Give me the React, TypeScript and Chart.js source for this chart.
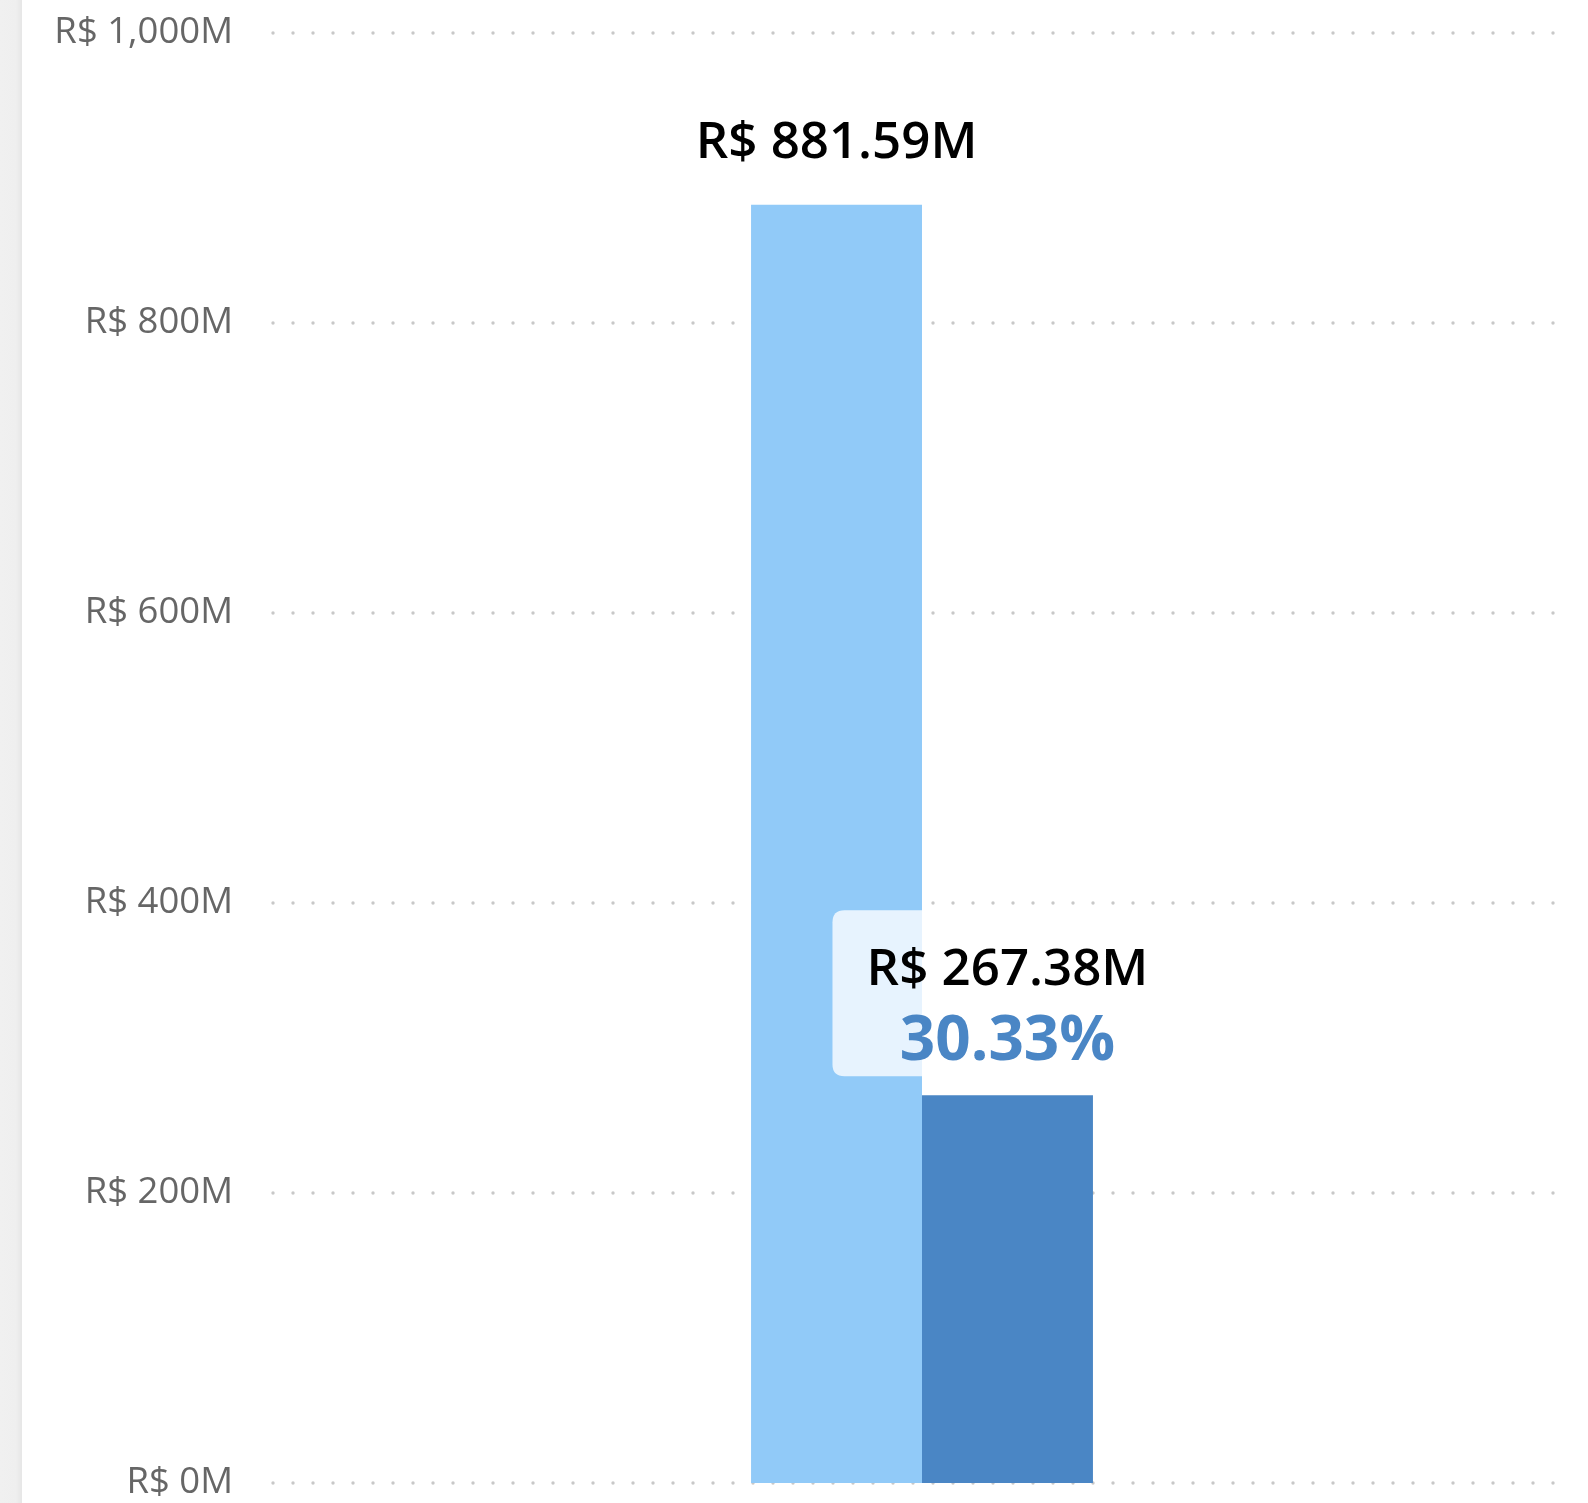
import React, { useEffect, useRef } from "react";
import { Chart, registerables } from "chart.js";

Chart.register(...registerables);

const categories = ["Receita"];
const seriesNames = ["Total", "Parcela"];
const totalValues = [881.59];
const partValues = [267.38];
const yTicks = [0, 200, 400, 600, 800, 1000];

const FONT = "'Open Sans', 'Noto Sans', sans-serif";

const fmtMoney = (v: number) => `R$ ${v.toFixed(2)}M`;
const fmtTick = (v: number) => `R$ ${Number(v).toLocaleString("en-US")}M`;

function roundRect(ctx: CanvasRenderingContext2D, x: number, y: number, w: number, h: number, r: number) {
  ctx.beginPath();
  ctx.moveTo(x + r, y);
  ctx.lineTo(x + w - r, y);
  ctx.quadraticCurveTo(x + w, y, x + w, y + r);
  ctx.lineTo(x + w, y + h - r);
  ctx.quadraticCurveTo(x + w, y + h, x + w - r, y + h);
  ctx.lineTo(x + r, y + h);
  ctx.quadraticCurveTo(x, y + h, x, y + h - r);
  ctx.lineTo(x, y + r);
  ctx.quadraticCurveTo(x, y, x + r, y);
  ctx.closePath();
}

const dottedGrid = {
  id: "dottedGrid",
  beforeDatasetsDraw(chart: any) {
    const { ctx, chartArea, scales } = chart;
    const y = scales.y;
    ctx.save();
    ctx.fillStyle = "#c8c8c8";
    y.ticks.forEach((t: any) => {
      const py = y.getPixelForValue(t.value);
      for (let x = chartArea.left + 1; x <= chartArea.right - 17; x += 20) {
        ctx.beginPath();
        ctx.arc(x, py, 1.7, 0, Math.PI * 2);
        ctx.fill();
      }
    });
    ctx.restore();
  },
};

const barLabels = {
  id: "barLabels",
  afterDatasetsDraw(chart: any) {
    const { ctx } = chart;
    ctx.save();
    ctx.textAlign = "center";
    ctx.textBaseline = "alphabetic";
    // Total label
    const m0 = chart.getDatasetMeta(0).data[0];
    ctx.fillStyle = "#000000";
    ctx.font = `600 51px ${FONT}`;
    ctx.fillText(fmtMoney(totalValues[0]), m0.x, m0.y - 47);
    // Part label with box
    const m1 = chart.getDatasetMeta(1).data[0];
    const top = m1.y;
    ctx.fillStyle = "rgba(255,255,255,0.78)";
    roundRect(ctx, m1.x - 175, top - 185, 350, 166, 12);
    ctx.fill();
    ctx.fillStyle = "#000000";
    ctx.font = `600 51px ${FONT}`;
    ctx.fillText(fmtMoney(partValues[0]), m1.x, top - 110);
    const pct = (partValues[0] / totalValues[0]) * 100;
    ctx.fillStyle = "#4A86C5";
    ctx.font = `bold 62px ${FONT}`;
    ctx.fillText(`${pct.toFixed(2)}%`, m1.x, top - 35);
    ctx.restore();
  },
};

export default function App() {
  const ref = useRef<HTMLCanvasElement | null>(null);

  useEffect(() => {
    document.body.style.margin = "0";
    if (!ref.current) return;
    const chart = new Chart(ref.current, {
      type: "bar",
      data: {
        labels: categories,
        datasets: [
          {
            label: seriesNames[0],
            data: totalValues,
            backgroundColor: "#91CAF8",
            borderWidth: 0,
          },
          {
            label: seriesNames[1],
            data: partValues,
            backgroundColor: "#4A86C5",
            borderWidth: 0,
          },
        ],
      },
      options: {
        animation: false,
        responsive: true,
        maintainAspectRatio: false,
        layout: { padding: { top: 33, bottom: 20, left: 0, right: 16 } },
        plugins: {
          legend: { display: false },
          tooltip: { enabled: false },
        },
        datasets: {
          bar: { categoryPercentage: 0.263, barPercentage: 1 },
        },
        scales: {
          x: {
            display: false,
          },
          y: {
            min: 0,
            max: 1000,
            afterFit(scale: any) {
              scale.width = 272;
              scale.paddingTop = 0;
              scale.paddingBottom = 0;
            },
            afterBuildTicks(scale: any) {
              scale.ticks = yTicks.map((v) => ({ value: v }));
            },
            grid: { display: false, drawTicks: false, tickLength: 0 },
            border: { display: false },
            ticks: {
              padding: 39,
              color: "#666666",
              font: { family: FONT, size: 36.5, lineHeight: 1 },
              callback: (v: any) => fmtTick(Number(v)),
            },
          },
        },
      },
      plugins: [dottedGrid, barLabels],
    });
    return () => chart.destroy();
  }, []);

  return (
    <div style={{ position: "relative", width: 1588, height: 1503, overflow: "hidden", background: "#ffffff" }}>
      <canvas ref={ref} style={{ display: "block" }} />
      <div
        style={{
          position: "absolute",
          left: 0,
          top: 0,
          width: 22,
          height: 1503,
          background: "linear-gradient(to right, #f0f0f0 0px, #efefef 16px, #e6e6e6 22px)",
        }}
      />
    </div>
  );
}
